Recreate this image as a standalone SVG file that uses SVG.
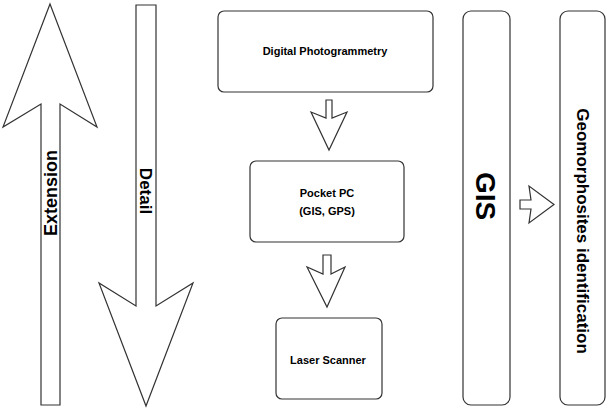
<svg xmlns="http://www.w3.org/2000/svg" width="609" height="410" viewBox="0 0 609 410">
<style>
.s{fill:#fff;stroke:#333;stroke-width:1.2;stroke-linejoin:miter}
.t{font-family:"Liberation Sans",Arial,sans-serif;font-weight:bold;fill:#000;text-anchor:middle}
</style>
<rect width="609" height="410" fill="#fff"/>
<g id="extension">
<path class="s" d="M50,4 L97,127 L60,104 L60,405 L41,405 L41,104 L3,127 Z"/>
<text class="t" font-size="18" transform="translate(56.5,193) rotate(-90)">Extension</text>
</g>
<g id="detail">
<path class="s" d="M136,5 L156,5 L156,306 L193,283 L146,406 L99,283 L136,306 Z"/>
<text class="t" font-size="17" transform="translate(140,191) rotate(90)">Detail</text>
</g>
<g id="digital-photogrammetry">
<rect class="s" x="218" y="11" width="215" height="81" rx="6"/>
<text class="t" font-size="11" x="325" y="55">Digital Photogrammetry</text>
</g>
<g id="pocket-pc">
<rect class="s" x="250" y="161" width="154" height="81" rx="6"/>
<text class="t" font-size="11" x="327" y="197">Pocket PC</text>
<text class="t" font-size="11" x="327" y="214.5">(GIS, GPS)</text>
</g>
<g id="laser-scanner">
<rect class="s" x="276" y="318" width="106" height="81" rx="6"/>
<text class="t" font-size="11" x="328" y="364">Laser Scanner</text>
</g>
<g id="gis">
<rect class="s" x="463" y="11" width="47" height="394" rx="8"/>
<text class="t" font-size="28" transform="translate(476,196) rotate(90)">GIS</text>
</g>
<g id="geomorphosites">
<rect class="s" x="560" y="11" width="45" height="394" rx="8"/>
<text class="t" font-size="17" transform="translate(577,231) rotate(90)">Geomorphosites identification</text>
</g>
<g id="connectors">
<path class="s" d="M326,100 L332,100 L332,118 L347,112 L329,150 L311,112 L326,118 Z"/>
<path class="s" d="M323,255 L331,255 L331,274 L345,267 L327,307 L307,267 L323,274 Z"/>
<path class="s" d="M520,200 L531,200 L529,186 L554,204.5 L529,223 L531,209 L520,209 Z"/>
</g>
</svg>
